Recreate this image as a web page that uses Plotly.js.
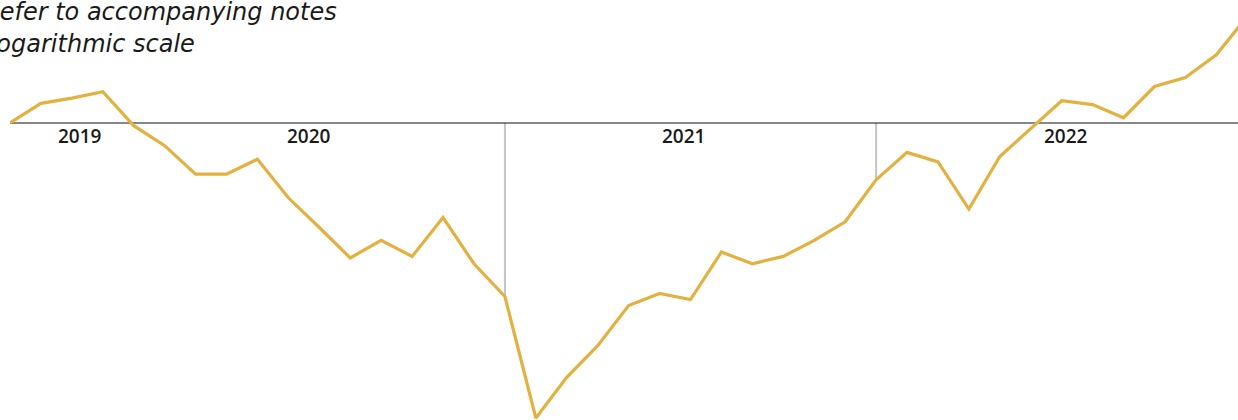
<!DOCTYPE html>
<html>
<head>
<meta charset="utf-8">
<script src="https://cdn.plot.ly/plotly-3.0.1.min.js"></script>
<style>
html,body{margin:0;padding:0;background:#fff;}
#chart{width:1238px;height:420px;}
</style>
</head>
<body>
<div id="chart"></div>
<script>
// Monthly index values (log scale, baseline = 100)
var months = [0,1,2,3,4,5,6,7,8,9,10,11,12,13,14,15,16,17,18,19,20,21,22,23,24,25,26,27,28,29,30,31,32,33,34,35,36,37,38,39,40];
var values = [100.0,101.5,101.9,102.4,99.8,98.3,96.2,96.2,97.3,94.5,92.4,90.3,91.5,90.4,93.1,89.9,87.7,80.0,82.5,84.5,87.1,87.9,87.5,90.7,89.9,90.4,91.5,92.8,95.8,97.8,97.1,93.7,97.5,99.6,101.7,101.4,100.4,102.8,103.5,105.3,108.4];
var baseline = 100;
var markerMonths = [16, 28];
var yearLabels = ['2019','2020','2021','2022'];
var yearPositions = [2.26, 9.67, 21.76, 34.14];
var notes = ['Refer to accompanying notes','Logarithmic scale'];

var gold = '#E3B13F';

// vertical marker lines from baseline to the series value
var vx = [], vy = [];
markerMonths.forEach(function(m){ vx.push(m, m, null); vy.push(baseline, values[m], null); });

var traces = [
  {x: vx, y: vy, mode: 'lines', line: {color: '#c4c4c4', width: 2}, hoverinfo: 'skip', showlegend: false},
  {x: [-5, 50], y: [baseline, baseline], mode: 'lines', line: {color: '#111111', width: 1}, hoverinfo: 'skip', showlegend: false},
  {x: months, y: values, mode: 'lines', line: {color: gold, width: 3.2}, showlegend: false}
];

var annotations = yearLabels.map(function(t, i){
  return {x: yearPositions[i], y: Math.log10(baseline), xref: 'x', yref: 'y', text: t,
    showarrow: false, xanchor: 'center', yanchor: 'top', yshift: 2,
    font: {family: 'Open Sans, sans-serif', size: 19, color: '#1a1a1a', weight: 600}};
});
var noteY = [12, 44];
notes.forEach(function(n, i){
  annotations.push({x: 0, y: 1 - noteY[i] / 420, xref: 'paper', yref: 'paper', xshift: -29,
    text: '<i>' + n + '</i>', align: 'left',
    showarrow: false, xanchor: 'left', yanchor: 'middle',
    font: {family: 'DejaVu Sans, sans-serif', size: 24, color: '#1a1a1a'}});
});

var layout = {
  width: 1238, height: 420,
  margin: {l: 10, r: 0, t: 0, b: 0},
  paper_bgcolor: '#ffffff', plot_bgcolor: '#ffffff',
  xaxis: {range: [0, 39.7], visible: false, showgrid: false, zeroline: false, fixedrange: true},
  yaxis: {type: 'log', range: [1.90243, 2.04041], visible: false, showgrid: false, zeroline: false, fixedrange: true},
  annotations: annotations,
  showlegend: false
};

Plotly.newPlot('chart', traces, layout, {displayModeBar: false, staticPlot: true});
</script>
</body>
</html>
